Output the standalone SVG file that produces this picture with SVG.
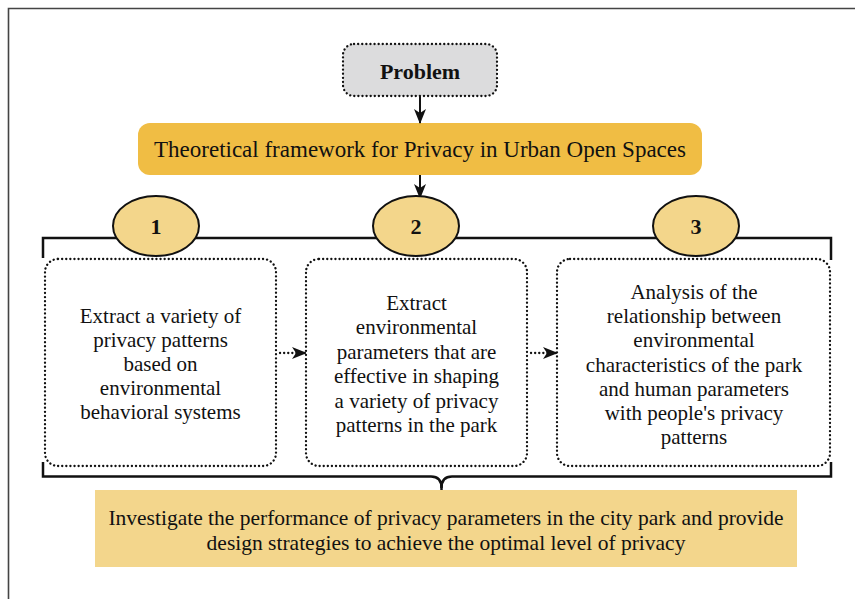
<svg xmlns="http://www.w3.org/2000/svg" width="855" height="599" viewBox="0 0 855 599">
<defs>
<style>
.t{font-family:"Liberation Serif","Times New Roman",serif;fill:#111;text-anchor:middle}
.box{fill:#fff;stroke:#111;stroke-width:2.3;stroke-dasharray:0.1 4;stroke-linecap:round}
.ell{fill:#f3d68b;stroke:#111;stroke-width:2}
.br{fill:none;stroke:#111;stroke-width:2.5}
.con{fill:none;stroke:#111;stroke-width:2}
.dcon{fill:none;stroke:#111;stroke-width:2.3;stroke-dasharray:0.1 4;stroke-linecap:round}
</style>
<marker id="ah" viewBox="0 0 15 12" refX="14" refY="6" markerWidth="15" markerHeight="12" markerUnits="userSpaceOnUse" orient="auto">
<path d="M0,0 L15,6 L0,12 L4,6 Z" fill="#111"/>
</marker>
</defs>
<rect width="855" height="599" fill="#fff"/>
<path d="M8.5,599 V8.5 H855" fill="none" stroke="#444" stroke-width="1.6"/>

<g id="problem">
<rect x="343" y="44" width="154" height="52" rx="11" class="box" style="fill:#dcdcdd"/>
<text x="420" y="79" class="t" font-size="22" font-weight="bold">Problem</text>
</g>

<g id="framework">
<rect x="138" y="123" width="564" height="52" rx="12" fill="#f0bd44"/>
<text x="420" y="157" class="t" font-size="23">Theoretical framework for Privacy in Urban Open Spaces</text>
</g>

<g id="connectors">
<path d="M420,96 V123" class="con" marker-end="url(#ah)"/>
<path d="M420,175 V198" class="con" marker-end="url(#ah)"/>
<path d="M43,258 V238 H831 V260" class="br"/>
<path d="M43,462 V476.5 H431 Q441.5,476.5 441.5,488 Q441.5,476.5 452,476.5 H831 V462" class="br"/>
<path d="M441.5,484 V490" class="br"/>
<path d="M280,353 H306" class="dcon" marker-end="url(#ah)"/>
<path d="M531,353 H557" class="dcon" marker-end="url(#ah)"/>
</g>

<g id="step1">
<rect x="45" y="259" width="231" height="207" rx="13" class="box"/>
<text class="t" font-size="21"><tspan x="160.5" y="323">Extract a variety of</tspan><tspan x="160.5" y="347">privacy patterns</tspan><tspan x="160.5" y="371">based on</tspan><tspan x="160.5" y="395">environmental</tspan><tspan x="160.5" y="419">behavioral systems</tspan></text>
</g>
<g id="step2">
<rect x="306" y="259" width="221" height="207" rx="13" class="box"/>
<text class="t" font-size="21"><tspan x="416.5" y="310">Extract</tspan><tspan x="416.5" y="334">environmental</tspan><tspan x="416.5" y="359">parameters that are</tspan><tspan x="416.5" y="383">effective in shaping</tspan><tspan x="416.5" y="408">a variety of privacy</tspan><tspan x="416.5" y="432">patterns in the park</tspan></text>
</g>
<g id="step3">
<rect x="557" y="259" width="273" height="207" rx="13" class="box"/>
<text class="t" font-size="21"><tspan x="694" y="299">Analysis of the</tspan><tspan x="694" y="323">relationship between</tspan><tspan x="694" y="347">environmental</tspan><tspan x="694" y="372">characteristics of the park</tspan><tspan x="694" y="396">and human parameters</tspan><tspan x="694" y="420">with people's privacy</tspan><tspan x="694" y="444">patterns</tspan></text>
</g>

<g id="n1">
<ellipse cx="156" cy="226" rx="43" ry="30" class="ell"/>
<text x="156" y="234" class="t" font-size="22" font-weight="bold">1</text>
</g>
<g id="n2">
<ellipse cx="416" cy="226" rx="43" ry="30" class="ell"/>
<text x="416" y="234" class="t" font-size="22" font-weight="bold">2</text>
</g>
<g id="n3">
<ellipse cx="696" cy="226" rx="43" ry="30" class="ell"/>
<text x="696" y="234" class="t" font-size="22" font-weight="bold">3</text>
</g>

<g id="goal">
<rect x="95" y="490" width="702" height="77" fill="#f3d68c"/>
<text class="t" font-size="21.5"><tspan x="446" y="525">Investigate the performance of privacy parameters in the city park and provide</tspan><tspan x="446" y="550">design strategies to achieve the optimal level of privacy</tspan></text>
</g>
</svg>
